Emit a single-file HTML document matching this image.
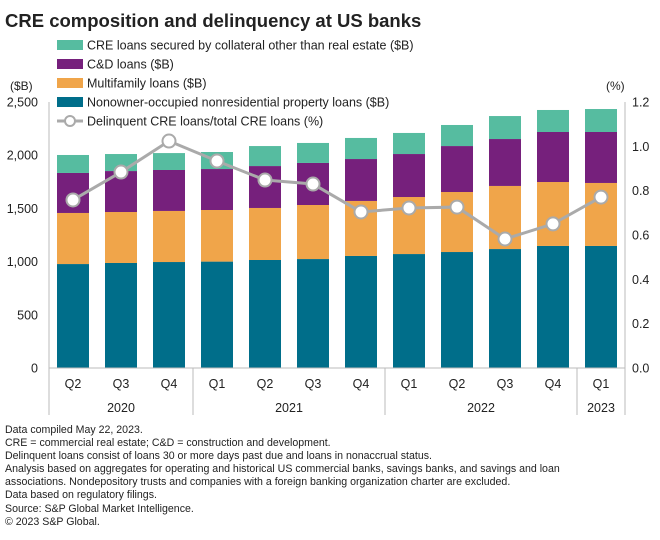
<!DOCTYPE html>
<html><head><meta charset="utf-8"><style>
body{margin:0;background:#fff;font-family:"Liberation Sans",sans-serif;}
svg text{font-family:"Liberation Sans",sans-serif;fill:#222;}
.notes{position:absolute;left:5px;top:424px;font-size:10.6px;line-height:13.1px;color:#222;}
</style></head><body>
<svg id="c" width="660" height="540" style="position:absolute;left:0;top:0">
<text x="5" y="27" font-size="18.5" font-weight="bold">CRE composition and delinquency at US banks</text>
<text x="10" y="90" font-size="12">($B)</text>
<text x="606" y="90" font-size="12">(%)</text>
<g id="legend"></g><g id="grid"></g><g id="bars"></g><g id="line"></g><g id="xaxis"></g>
</svg>
<div class="notes">Data compiled May 22, 2023.<br>CRE = commercial real estate; C&amp;D = construction and development.<br>Delinquent loans consist of loans 30 or more days past due and loans in nonaccrual status.<br>Analysis based on aggregates for operating and historical US commercial banks, savings banks, and savings and loan<br>associations. Nondepository trusts and companies with a foreign banking organization charter are excluded.<br>Data based on regulatory filings.<br>Source: S&amp;P Global Market Intelligence.<br>© 2023 S&amp;P Global.</div>
<script>
const quarters=["Q2","Q3","Q4","Q1","Q2","Q3","Q4","Q1","Q2","Q3","Q4","Q1"];
const years=["2020","2021","2022","2023"];
const yearCounts=[3,4,4,1];
const nonowner=[977,987,996,1000,1015,1024,1053,1071,1090,1118,1147,1147];
const multifamily=[480,479,480,485,489,508,517,536,564,593,601,592];
const cnd=[376,385,385,385,394,395,394,404,432,441,470,479];
const other=[169,160,159,160,188,188,198,198,198,216,207,216];
const delinquent=[0.758,0.884,1.024,0.934,0.848,0.830,0.704,0.722,0.726,0.582,0.650,0.771];
const leftTicks=[0,500,1000,1500,2000,2500];
const rightTicks=[0,0.2,0.4,0.6,0.8,1.0,1.2];
const legendLabels=["CRE loans secured by collateral other than real estate ($B)","C&D loans ($B)","Multifamily loans ($B)","Nonowner-occupied nonresidential property loans ($B)","Delinquent CRE loans/total CRE loans (%)"];
const colors=["#56bca0","#76207c","#f0a54a","#006e8a"];
const NS="http://www.w3.org/2000/svg";
const X0=49,X1=625,Y0=368,Y1=102,band=(X1-X0)/quarters.length,bw=32;
const yL=v=>Y0-(v/2500)*(Y0-Y1);
const yR=v=>Y0-(v/1.2)*(Y0-Y1);
const xC=i=>X0+band*(i+0.5);
function mk(t,a,p){const e=document.createElementNS(NS,t);for(const k in a)e.setAttribute(k,a[k]);p.appendChild(e);return e;}
const G=id=>document.getElementById(id);
// legend
legendLabels.forEach((l,i)=>{const y=45+i*19;
 if(i<4){const r=mk("rect",{x:57,y:y-5,width:26,height:10,fill:colors[i]},G("legend"));
 
 }
 else{mk("line",{x1:57,x2:83,y1:y,y2:y,stroke:"#aaa","stroke-width":3},G("legend"));
 const c=mk("circle",{cx:70,cy:y,r:5,fill:"#fff",stroke:"#aaa","stroke-width":2},G("legend"));
 
 }
 const t=mk("text",{x:87,y:y+4.5,"font-size":12.5},G("legend"));t.textContent=l;
 
 
});
// axes ticks
leftTicks.forEach(v=>{const t=mk("text",{x:38,y:yL(v)+4.5,"font-size":12.5,"text-anchor":"end"},G("grid"));t.textContent=v.toLocaleString("en-US");
 
 });
rightTicks.forEach(v=>{const t=mk("text",{x:632,y:yR(v)+4.5,"font-size":12.5},G("grid"));t.textContent=v.toFixed(1);
 
 });
mk("line",{x1:X0,x2:X0,y1:Y1,y2:Y0,stroke:"#bbb"},G("grid"));
mk("line",{x1:X1,x2:X1,y1:Y1,y2:Y0,stroke:"#bbb"},G("grid"));
// bars
quarters.forEach((q,i)=>{let base=0;
 [[nonowner,3],[multifamily,2],[cnd,1],[other,0]].forEach(([arr,ci])=>{
  const top=base+arr[i];
  const r=mk("rect",{x:xC(i)-bw/2,y:yL(top),width:bw,height:yL(base)-yL(top),fill:colors[ci]},G("bars"));
  
  
  base=top;});
});
// line
mk("polyline",{points:delinquent.map((v,i)=>xC(i)+","+yR(v)).join(" "),fill:"none",stroke:"#aaa","stroke-width":3},G("line"));
delinquent.forEach((v,i)=>{const c=mk("circle",{cx:xC(i),cy:yR(v),r:6.5,fill:"#fff",stroke:"#aaa","stroke-width":2},G("line"));
 
 });
// x axis
mk("line",{x1:X0,x2:X1,y1:Y0,y2:Y0,stroke:"#bbb"},G("xaxis"));
quarters.forEach((q,i)=>{const t=mk("text",{x:xC(i),y:388,"font-size":12.5,"text-anchor":"middle"},G("xaxis"));t.textContent=q;
 
 });
let idx=0;
mk("line",{x1:X0,x2:X0,y1:Y0,y2:415,stroke:"#bbb"},G("xaxis"));
years.forEach((y,k)=>{const s=idx,e=idx+yearCounts[k];idx=e;
 const t=mk("text",{x:(X0+band*s+X0+band*e)/2,y:412,"font-size":12.5,"text-anchor":"middle"},G("xaxis"));t.textContent=y;
 
 
 mk("line",{x1:X0+band*e,x2:X0+band*e,y1:Y0,y2:415,stroke:"#bbb"},G("xaxis"));});
</script>
</body></html>
